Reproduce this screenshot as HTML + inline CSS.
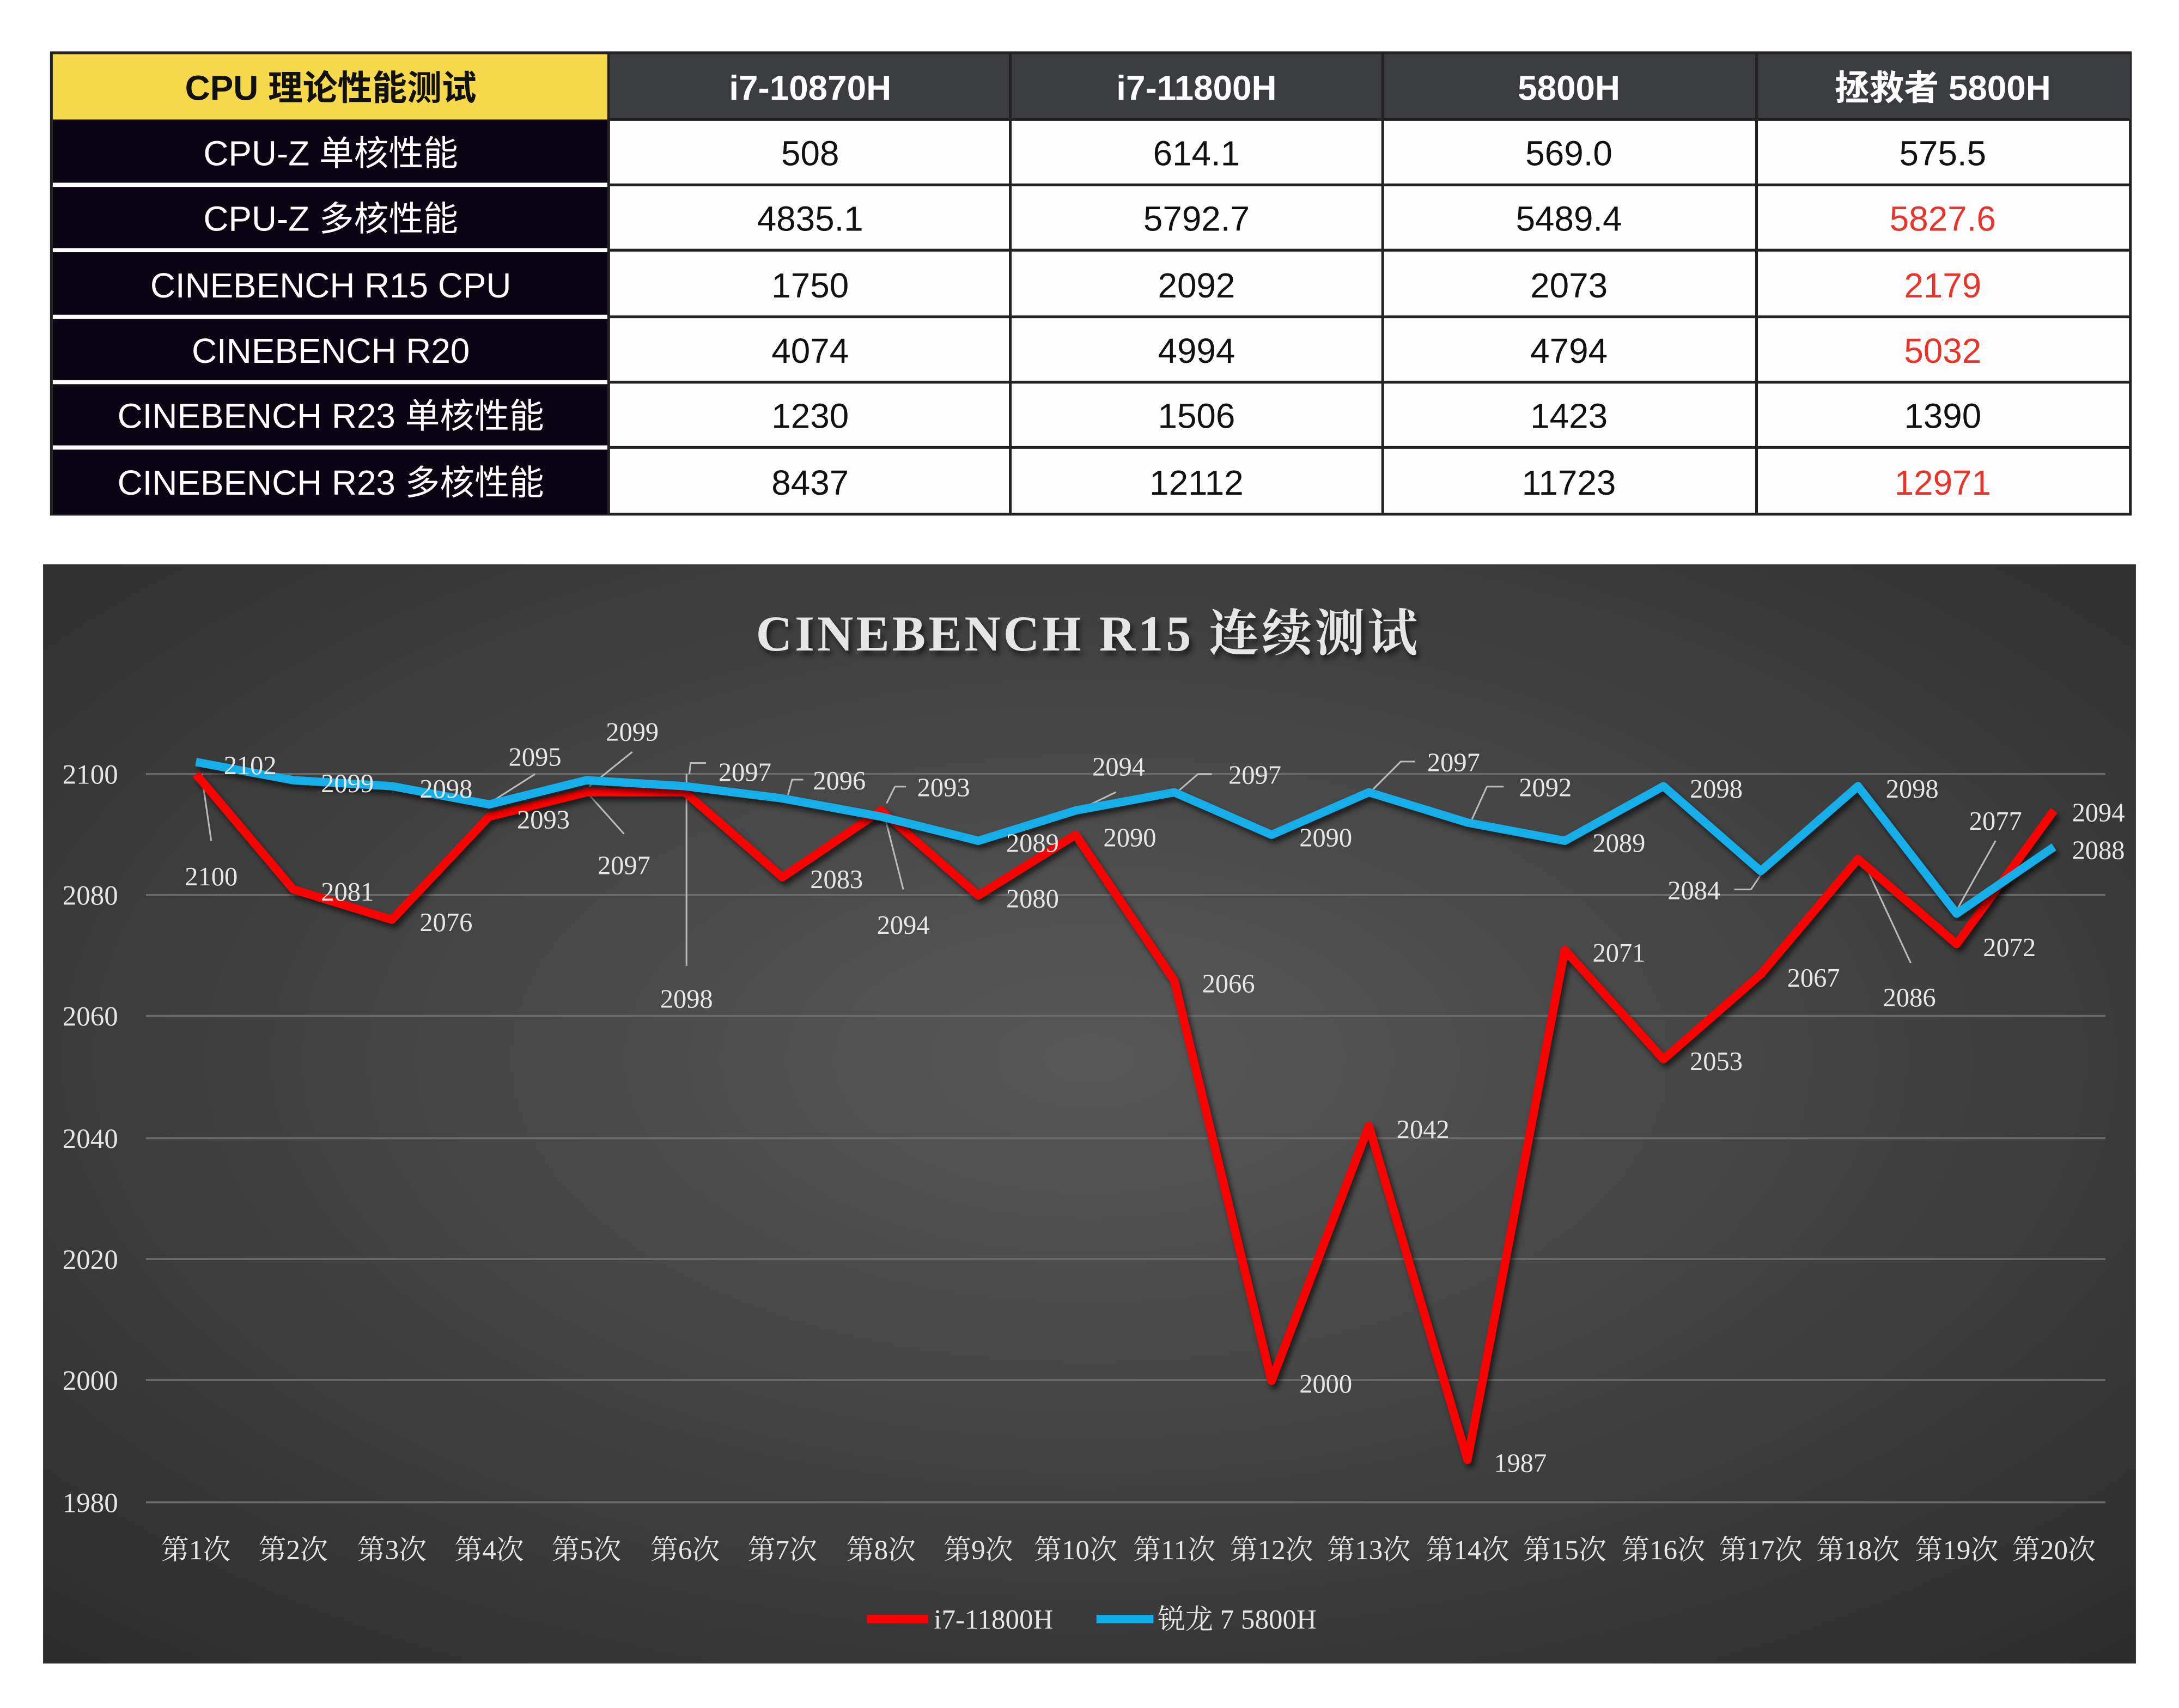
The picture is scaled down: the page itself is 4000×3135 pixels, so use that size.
<!DOCTYPE html>
<html><head><meta charset="utf-8"><style>
html,body{margin:0;padding:0;background:#fff;}
svg{display:block;}
</style></head><body>
<svg width="4000" height="3135" viewBox="0 0 1568 1229" preserveAspectRatio="none" xmlns="http://www.w3.org/2000/svg">
<defs>
<radialGradient id="bg" cx="0.5" cy="0.45" r="0.75">
<stop offset="0" stop-color="#585858"/>
<stop offset="1" stop-color="#2b2b2b"/>
</radialGradient>
<filter id="sh" x="-5%" y="-5%" width="110%" height="110%"><feDropShadow dx="2" dy="3" stdDeviation="2" flood-color="#000" flood-opacity="0.6"/></filter>
</defs>
<rect width="1568" height="1229" fill="#fff"/>
<!-- TABLE -->
<g font-family="Liberation Sans, Noto Sans CJK SC, sans-serif">
<rect x="37" y="38" width="1496" height="332" fill="#fdfdfd" stroke="#222" stroke-width="2"/>
<rect x="38" y="39" width="400" height="47" fill="#f6d94a"/>
<rect x="438" y="39" width="1095" height="47" fill="#3b3c40"/>
<rect x="38" y="86" width="400" height="284" fill="#0b0413"/>
<g stroke="#fff" stroke-width="3">
<line x1="38" y1="133" x2="438" y2="133"/><line x1="38" y1="180" x2="438" y2="180"/><line x1="38" y1="228" x2="438" y2="228"/><line x1="38" y1="275" x2="438" y2="275"/><line x1="38" y1="322" x2="438" y2="322"/>
</g>
<g stroke="#222" stroke-width="2">
<line x1="438" y1="133" x2="1533" y2="133"/><line x1="438" y1="180" x2="1533" y2="180"/><line x1="438" y1="228" x2="1533" y2="228"/><line x1="438" y1="275" x2="1533" y2="275"/><line x1="438" y1="322" x2="1533" y2="322"/><line x1="438" y1="86" x2="1533" y2="86"/>
<line x1="727" y1="38" x2="727" y2="370"/><line x1="995" y1="38" x2="995" y2="370"/><line x1="1264" y1="38" x2="1264" y2="370"/><line x1="438" y1="38" x2="438" y2="370"/>
</g>
<g font-size="25" text-anchor="middle" font-weight="bold">
<text x="238" y="72" fill="#111">CPU 理论性能测试</text>
<text x="583" y="72" fill="#fff">i7-10870H</text>
<text x="861" y="72" fill="#fff">i7-11800H</text>
<text x="1129" y="72" fill="#fff">5800H</text>
<text x="1398" y="72" fill="#fff">拯救者 5800H</text>
</g>
<g font-size="25" text-anchor="middle" fill="#fff">
<text x="238" y="119">CPU-Z 单核性能</text>
<text x="238" y="166">CPU-Z 多核性能</text>
<text x="238" y="214">CINEBENCH R15 CPU</text>
<text x="238" y="261">CINEBENCH R20</text>
<text x="238" y="308">CINEBENCH R23 单核性能</text>
<text x="238" y="356">CINEBENCH R23 多核性能</text>
</g>
<g font-size="25" text-anchor="middle" fill="#111">
<text x="583" y="119">508</text><text x="861" y="119">614.1</text><text x="1129" y="119">569.0</text><text x="1398" y="119">575.5</text>
<text x="583" y="166">4835.1</text><text x="861" y="166">5792.7</text><text x="1129" y="166">5489.4</text><text x="1398" y="166" fill="#e8352b">5827.6</text>
<text x="583" y="214">1750</text><text x="861" y="214">2092</text><text x="1129" y="214">2073</text><text x="1398" y="214" fill="#e8352b">2179</text>
<text x="583" y="261">4074</text><text x="861" y="261">4994</text><text x="1129" y="261">4794</text><text x="1398" y="261" fill="#e8352b">5032</text>
<text x="583" y="308">1230</text><text x="861" y="308">1506</text><text x="1129" y="308">1423</text><text x="1398" y="308">1390</text>
<text x="583" y="356">8437</text><text x="861" y="356">12112</text><text x="1129" y="356">11723</text><text x="1398" y="356" fill="#e8352b">12971</text>
</g>
</g>
<!-- CHART -->
<rect x="31" y="406" width="1506" height="791" fill="url(#bg)"/>
<g font-family="Liberation Serif, Noto Serif CJK SC, serif" fill="#e6e6e6">
<text x="783" y="468" font-size="36" font-weight="bold" letter-spacing="2" text-anchor="middle" filter="url(#sh)">CINEBENCH R15 连续测试</text>
<g stroke="#6a6a6a" stroke-width="1.5">
<line x1="105" y1="557" x2="1515" y2="557"/><line x1="105" y1="644" x2="1515" y2="644"/><line x1="105" y1="731" x2="1515" y2="731"/><line x1="105" y1="819" x2="1515" y2="819"/><line x1="105" y1="906" x2="1515" y2="906"/><line x1="105" y1="993" x2="1515" y2="993"/><line x1="105" y1="1081" x2="1515" y2="1081"/>
</g>
<g font-size="20" text-anchor="middle">
<text x="65" y="564">2100</text><text x="65" y="651">2080</text><text x="65" y="738">2060</text><text x="65" y="826">2040</text><text x="65" y="913">2020</text><text x="65" y="1000">2000</text><text x="65" y="1088">1980</text>
</g>
<g font-size="20" text-anchor="middle">
<text x="141" y="1122">第1次</text><text x="211" y="1122">第2次</text><text x="282" y="1122">第3次</text><text x="352" y="1122">第4次</text><text x="422" y="1122">第5次</text><text x="493" y="1122">第6次</text><text x="563" y="1122">第7次</text><text x="634" y="1122">第8次</text><text x="704" y="1122">第9次</text><text x="774" y="1122">第10次</text><text x="845" y="1122">第11次</text><text x="915" y="1122">第12次</text><text x="985" y="1122">第13次</text><text x="1056" y="1122">第14次</text><text x="1126" y="1122">第15次</text><text x="1197" y="1122">第16次</text><text x="1267" y="1122">第17次</text><text x="1337" y="1122">第18次</text><text x="1408" y="1122">第19次</text><text x="1478" y="1122">第20次</text>
</g>
<g stroke="#bbb" stroke-width="1.2" fill="none">
<path d="M145 557 L152 605"/><path d="M424 572 L449 600"/><path d="M494 557 L494 695"/><path d="M496 557 L497 549 L508 549"/>
<path d="M636 585 L650 640"/><path d="M352 578 L385 557"/><path d="M424 566 L455 541"/>
<path d="M567 572 L570 561 L578 561"/><path d="M638 578 L644 566 L652 566"/><path d="M776 583 L803 570"/>
<path d="M847 570 L862 557 L872 557"/><path d="M988 568 L1008 548 L1018 548"/><path d="M1059 590 L1070 566 L1082 566"/>
<path d="M1248 640 L1260 640 L1268 628"/><path d="M1341 620 L1375 693"/><path d="M1408 655 L1436 605"/>
</g>
<polyline filter="url(#sh)" fill="none" stroke="#ff0000" stroke-width="6" stroke-linejoin="round" points="141,557.0 211,639.9 282,661.8 352,587.6 422,570.1 493,570.1 563,631.2 634,583.2 704,644.3 774,600.7 845,705.5 915,993.6 985,810.2 1056,1050.4 1126,683.6 1197,762.2 1267,701.1 1337,618.1 1408,679.3 1478,583.2"/>
<polyline filter="url(#sh)" fill="none" stroke="#12aee9" stroke-width="6" stroke-linejoin="round" points="141,548.3 211,561.4 282,565.7 352,578.8 422,561.4 493,565.7 563,574.5 634,587.6 704,605.0 774,583.2 845,570.1 915,600.7 985,570.1 1056,591.9 1126,605.0 1197,565.7 1267,626.8 1337,565.7 1408,657.4 1478,609.4"/>
<g font-size="19" text-anchor="middle">
<text x="180" y="557">2102</text><text x="250" y="570">2099</text><text x="321" y="574">2098</text><text x="385" y="551">2095</text><text x="455" y="533">2099</text>
<text x="536" y="562">2097</text><text x="604" y="568">2096</text><text x="679" y="573">2093</text><text x="805" y="558">2094</text><text x="903" y="564">2097</text>
<text x="1046" y="555">2097</text><text x="1112" y="573">2092</text><text x="1235" y="574">2098</text><text x="1376" y="574">2098</text><text x="1436" y="597">2077</text><text x="1510" y="618">2088</text>
<text x="743" y="613">2089</text><text x="954" y="609">2090</text><text x="1165" y="613">2089</text><text x="1219" y="647">2084</text>
<text x="152" y="637">2100</text><text x="250" y="648">2081</text><text x="321" y="670">2076</text><text x="391" y="596">2093</text><text x="449" y="629">2097</text>
<text x="494" y="725">2098</text><text x="602" y="639">2083</text><text x="650" y="672">2094</text><text x="743" y="653">2080</text><text x="813" y="609">2090</text>
<text x="884" y="714">2066</text><text x="954" y="1002">2000</text><text x="1024" y="819">2042</text><text x="1094" y="1059">1987</text><text x="1165" y="692">2071</text>
<text x="1235" y="770">2053</text><text x="1305" y="710">2067</text><text x="1374" y="724">2086</text><text x="1446" y="688">2072</text><text x="1510" y="591">2094</text>
</g>
<line x1="624" y1="1165" x2="668" y2="1165" stroke="#ff0000" stroke-width="6"/>
<text x="672" y="1172" font-size="20">i7-11800H</text>
<line x1="789" y1="1165" x2="830" y2="1165" stroke="#12aee9" stroke-width="6"/>
<text x="833" y="1172" font-size="20">锐龙 7 5800H</text>
</g>
</svg>
</body></html>
